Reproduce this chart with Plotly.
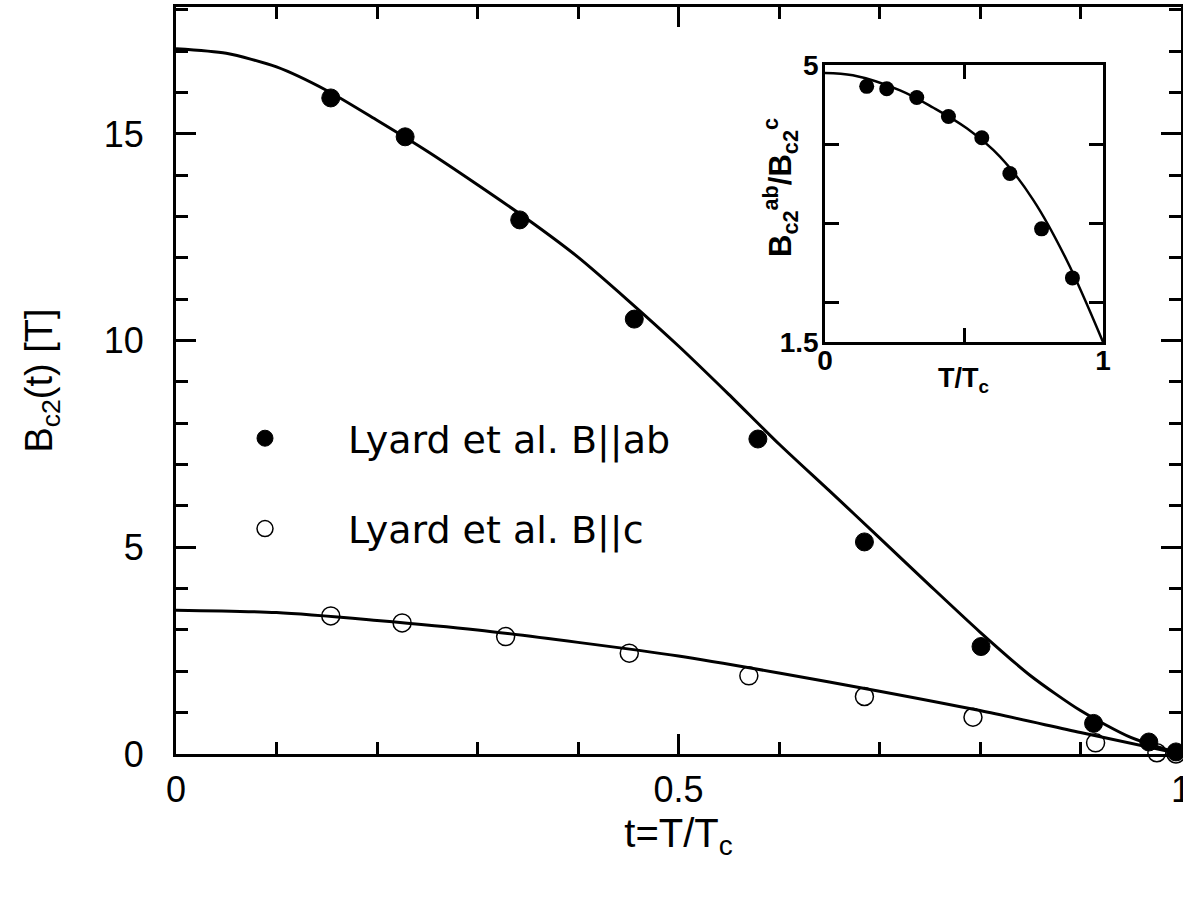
import plotly.graph_objects as go

# ---------------- data ----------------
# Lyard et al. B||ab (filled circles)
t_ab = [0.154, 0.228, 0.342, 0.456, 0.579, 0.685, 0.801, 0.913, 0.968, 0.995]
B_ab = [15.87, 14.93, 12.92, 10.52, 7.62, 5.13, 2.60, 0.74, 0.29, 0.05]

# Lyard et al. B||c (open circles)
t_c = [0.154, 0.225, 0.328, 0.451, 0.570, 0.685, 0.793, 0.915, 0.976, 0.995]
B_c = [3.34, 3.17, 2.84, 2.44, 1.89, 1.39, 0.89, 0.27, 0.03, 0.0]

# theory curves
t_fit_ab = [0, 0.05, 0.1, 0.15, 0.2, 0.25, 0.3, 0.35, 0.4, 0.45, 0.5,
            0.55, 0.6, 0.65, 0.7, 0.75, 0.8, 0.85, 0.9, 0.95, 1.0]
B_fit_ab = [17.06, 16.95, 16.62, 16.05, 15.33, 14.58, 13.77, 12.93, 12.02, 10.97, 9.87,
            8.70, 7.50, 6.37, 5.23, 4.08, 2.95, 1.90, 1.05, 0.40, 0.0]

t_fit_c = [0, 0.1, 0.2, 0.3, 0.4, 0.5, 0.6, 0.7, 0.8, 0.9, 1.0]
B_fit_c = [3.48, 3.42, 3.23, 3.0, 2.70, 2.37, 1.96, 1.52, 1.05, 0.52, 0.0]

# inset: anisotropy ratio
t_ratio = [0.150, 0.222, 0.330, 0.444, 0.564, 0.665, 0.779, 0.890]
ratio = [4.73, 4.70, 4.59, 4.35, 4.08, 3.63, 2.93, 2.31]
t_fit_ratio = [0, 0.1, 0.27, 0.39, 0.51, 0.63, 0.75, 0.87, 1.0]
fit_ratio = [4.9, 4.87, 4.68, 4.46, 4.2, 3.84, 3.29, 2.53, 1.5]

main_xticks = [0, 0.5, 1]
main_xticklabels = ["0", "0.5", "1"]
main_yticks = [0, 5, 10, 15]
inset_xticks = [0, 0.5, 1]
inset_xticklabels = ["0", " ", "1"]
inset_yticks = [1.5, 2, 3, 4, 5]
inset_yticklabels = ["1.5", " ", " ", " ", "5"]

FONT = "Liberation Sans, Arial, Helvetica, sans-serif"
LEGEND_FONT = "DejaVu Sans, Verdana, sans-serif"
BLACK = "black"

fig = go.Figure()

# main theory curves
fig.add_trace(go.Scatter(x=t_fit_ab, y=B_fit_ab, mode="lines",
                         line=dict(color=BLACK, width=3, shape="spline", smoothing=0.7),
                         showlegend=False, hoverinfo="skip"))
fig.add_trace(go.Scatter(x=t_fit_c, y=B_fit_c, mode="lines",
                         line=dict(color=BLACK, width=3, shape="spline", smoothing=0.8),
                         showlegend=False, hoverinfo="skip"))

# data
fig.add_trace(go.Scatter(x=t_ab, y=B_ab, mode="markers", cliponaxis=False,
                         name="Lyard et al. B||ab", legendgroup="ab",
                         marker=dict(symbol="circle", size=18, color=BLACK,
                                     line=dict(color=BLACK, width=1))))
fig.add_trace(go.Scatter(x=t_c, y=B_c, mode="markers", cliponaxis=False,
                         name="Lyard et al. B||c", legendgroup="c",
                         marker=dict(symbol="circle-open", size=18, color=BLACK,
                                     line=dict(color=BLACK, width=1.5))))

# inset
fig.add_trace(go.Scatter(x=t_fit_ratio, y=fit_ratio, mode="lines", xaxis="x2", yaxis="y2",
                         line=dict(color=BLACK, width=2.5, shape="spline", smoothing=1.0),
                         showlegend=False, hoverinfo="skip"))
fig.add_trace(go.Scatter(x=t_ratio, y=ratio, mode="markers", xaxis="x2", yaxis="y2",
                         marker=dict(symbol="circle", size=15, color=BLACK),
                         showlegend=False))

# geometry in pixels
W, H = 1183, 902
L, R, T, B = 176, 1181, 7, 754
pw, ph = R - L, B - T

def px2dx(p):
    return (p - L) / pw

def py2dy(p):
    return (B - p) / ph

axis_common = dict(showgrid=False, zeroline=False, showline=True, linecolor=BLACK,
                   mirror="ticks", ticks="inside", tickcolor=BLACK, automargin=False)

fig.update_layout(
    width=W, height=H,
    margin=dict(l=L, r=W - R, t=T, b=H - B, pad=0, autoexpand=False),
    paper_bgcolor="white", plot_bgcolor="white",
    font=dict(family=FONT, color=BLACK, size=36),
    xaxis=dict(**axis_common, range=[0, 1], linewidth=3, tickwidth=2.5, ticklen=20,
               tickvals=main_xticks, ticktext=main_xticklabels,
               minor=dict(dtick=0.1, tick0=0, ticks="inside", ticklen=12, tickwidth=2.5, tickcolor=BLACK),
               tickfont=dict(size=36), ticklabelstandoff=2, ticklabeloverflow="allow",
               title=dict(text="t=T/T<sub>c</sub>", font=dict(size=40), standoff=10)),
    yaxis=dict(**axis_common, range=[0, 18.07], linewidth=3, tickwidth=2.5, ticklen=20,
               tickvals=main_yticks,
               minor=dict(dtick=1, tick0=0, ticks="inside", ticklen=12, tickwidth=2.5, tickcolor=BLACK),
               tickfont=dict(size=36), ticklabelstandoff=22, ticklabeloverflow="allow",
               title=dict(text="B<sub>c2</sub>(t) [T]", font=dict(size=38), standoff=40)),
    xaxis2=dict(**axis_common, domain=[px2dx(825), px2dx(1103)], anchor="y2",
                range=[0, 1], linewidth=2.5, tickwidth=2.5, ticklen=14,
                tickvals=inset_xticks, ticktext=inset_xticklabels,
                tickfont=dict(size=28, weight="bold"), ticklabelstandoff=-8),
    yaxis2=dict(**axis_common, domain=[py2dy(342), py2dy(65)], anchor="x2",
                range=[1.5, 5], linewidth=2.5, tickwidth=2.5, ticklen=14,
                tickvals=inset_yticks, ticktext=inset_yticklabels,
                tickfont=dict(size=28, weight="bold"), ticklabelstandoff=-2),
    legend=dict(x=px2dx(182), y=py2dy(407), xanchor="left", yanchor="top",
                bgcolor="rgba(0,0,0,0)", borderwidth=0,
                font=dict(size=38, family=LEGEND_FONT), itemwidth=156, traceorder="grouped",
                tracegroupgap=38),
    showlegend=True,
    annotations=[
        dict(text="B<sub>c2</sub><sup>ab</sup>/B<sub>c2</sub><sup>c</sup>",
             xref="paper", yref="paper", x=px2dx(780), y=py2dy(188),
             xanchor="center", yanchor="middle", textangle=-90, showarrow=False,
             font=dict(size=31, weight="bold")),
        dict(text="T/T<sub>c</sub>",
             xref="paper", yref="paper", x=px2dx(963), y=py2dy(380),
             xanchor="center", yanchor="middle", showarrow=False,
             font=dict(size=27, weight="bold")),
    ],
)

fig.write_html("out.html")
